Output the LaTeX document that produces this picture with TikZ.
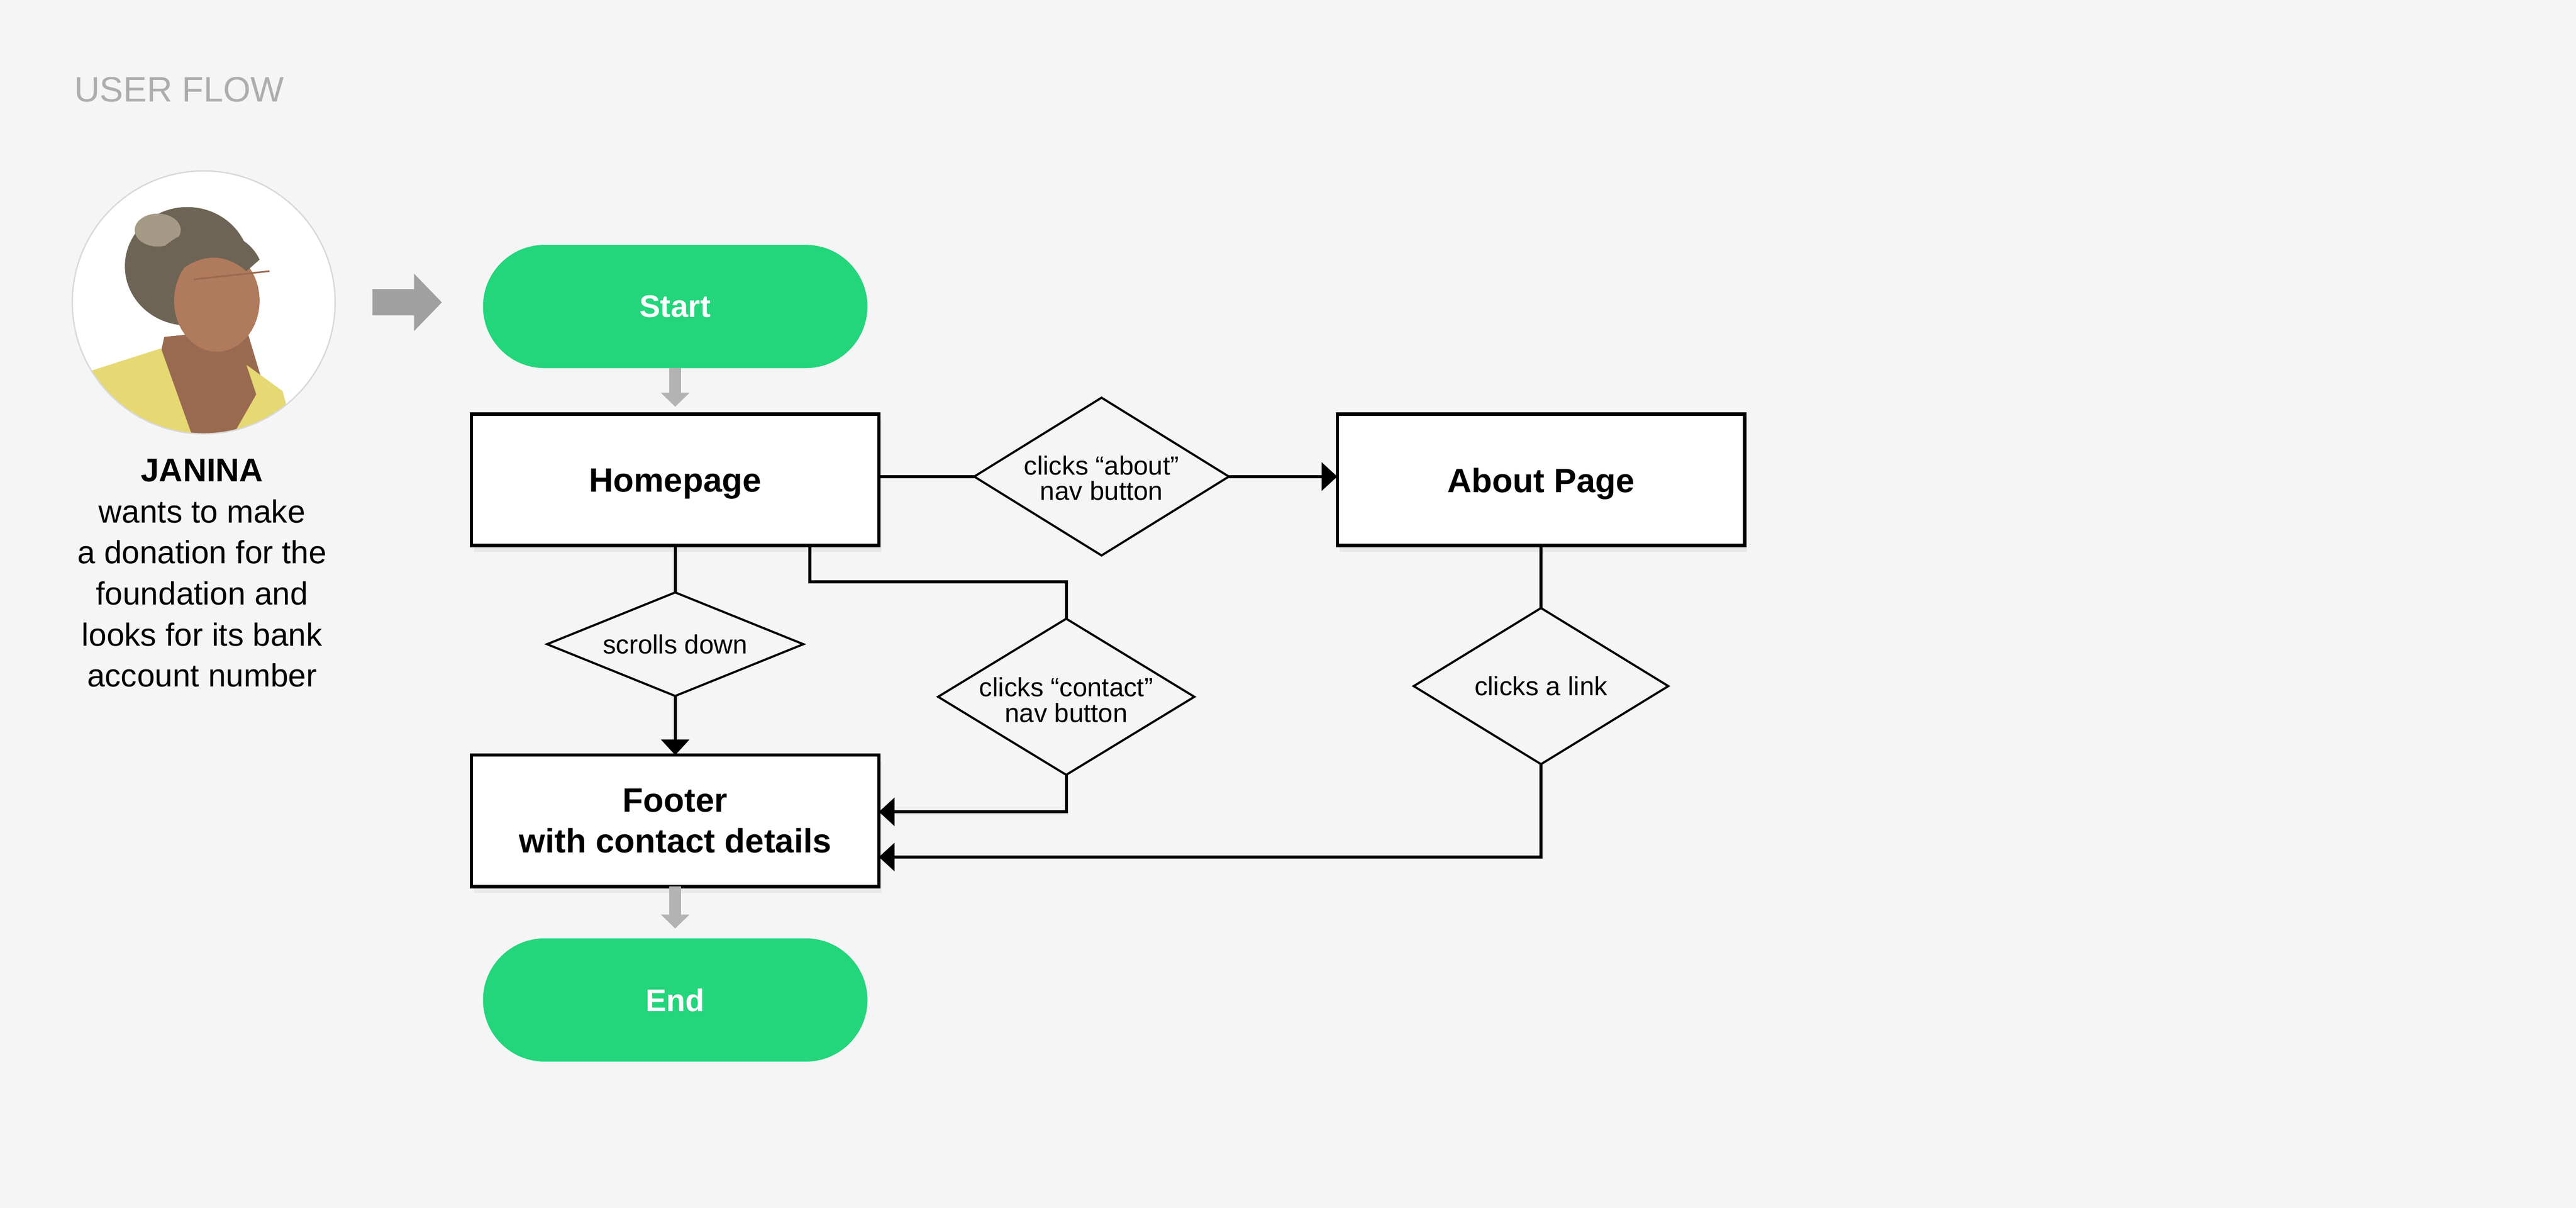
\documentclass[tikz,border=0pt]{standalone}
\usepackage{fontspec}
\setmainfont{Liberation Sans}
\usetikzlibrary{arrows.meta,shadows,shapes.geometric}
\definecolor{bg}{HTML}{F5F5F5}
\definecolor{flowgreen}{HTML}{23D57B}
\definecolor{titlegrey}{HTML}{ADADAD}
\definecolor{lightarrow}{HTML}{B3B3B3}
\definecolor{userarrow}{HTML}{A0A0A0}
\definecolor{ringgrey}{HTML}{D8D8D8}
\definecolor{shirt}{HTML}{E6D873}
\definecolor{skin}{HTML}{B07A5C}
\definecolor{skindark}{HTML}{9A6A50}
\definecolor{hair}{HTML}{6E6455}
\definecolor{hairlight}{HTML}{A59A86}
\begin{document}
\begin{tikzpicture}[x=1pt,y=-1pt,
  pagebox/.style={draw=black, line width=2pt, fill=white, minimum width=248pt, minimum height=80pt,
    inner sep=0pt, outer sep=0pt, align=center, font=\bfseries\fontsize{20.5}{24.7}\selectfont,
    drop shadow={opacity=0.10, shadow xshift=1.5pt, shadow yshift=-4pt}},
  pill/.style={fill=flowgreen, rounded corners=37.5pt, minimum width=234pt, minimum height=75pt,
    inner sep=0pt, outer sep=0pt, text=white, font=\bfseries\fontsize{19}{22}\selectfont},
  choice/.style={diamond, draw=black, line width=1.3pt, inner sep=0pt, outer sep=0pt},
  choicetext/.style={font=\fontsize{16}{15.5}\selectfont, align=center},
  conn/.style={draw=black, line width=1.9pt},
  connarrow/.style={conn, -{Triangle[length=9.5pt,width=17pt]}},
  greyarrow/.style={draw=lightarrow, line width=7pt, -{Triangle[length=8.5pt,width=17pt]}},
  persontext/.style={anchor=base, font=\fontsize{19.5}{25}\selectfont}
]
\fill[bg] (0,0) rectangle (1568,735);
\useasboundingbox (0,0) rectangle (1568,735);

% title
\node[anchor=base west, inner sep=0pt, text=titlegrey, font=\fontsize{21.5}{26}\selectfont] (title) at (45,62) {USER FLOW};

% photo
\node[circle, minimum size=160pt, inner sep=0pt, fill=white] (photo) at (124,184) {};
\begin{scope}
  \clip (124,184) circle (80);
  \fill[hair] (114,162) ellipse (38 and 36);
  \fill[hairlight] (96,140) ellipse (14 and 10);
  \fill[skindark] (100,205) -- (150,200) -- (162,240) -- (140,268) -- (104,268) -- (94,232) -- cycle;
  \fill[shirt] (48,228) -- (98,212) -- (108,240) -- (118,268) -- (40,268) -- cycle;
  \fill[shirt] (150,222) -- (172,238) -- (180,268) -- (140,268) -- (156,240) -- cycle;
  \fill[skin] (132,183) ellipse (26 and 31);
  \fill[hair] (100,150) .. controls (120,132) and (150,140) .. (158,158) -- (150,165) .. controls (135,152) and (118,155) .. (104,170) -- cycle;
  \draw[skindark, line width=1pt] (118,170) -- (164,165);
\end{scope}
\draw[ringgrey, line width=0.8pt] (photo.center) circle (80);

% person text
\node[persontext, font=\bfseries\fontsize{20}{25}\selectfont] (j0) at (123,293) {JANINA};
\node[persontext] (j1) at (123,318) {wants to make};
\node[persontext] (j2) at (123,343) {a donation for the};
\node[persontext] (j3) at (123,368) {foundation and};
\node[persontext] (j4) at (123,393) {looks for its bank};
\node[persontext] (j5) at (123,418) {account number};

% flow nodes
\node[pill] (start) at (411,186.5) {Start};
\node[pagebox] (home) at (411,292) {\raisebox{-2.5pt}[\height][\depth]{Homepage}};
\node[pagebox] (about) at (938,292) {\raisebox{-2.5pt}[\height][\depth]{About Page}};
\node[pagebox] (footer) at (411,499.5) {Footer\\with contact details};
\node[pill] (end) at (411,608.5) {End};

\node[choice, minimum width=155pt, minimum height=96pt,
  label={[choicetext, yshift=-1pt]center:clicks “about”\\nav button}] (aboutd) at (670.5,290) {};
\node[choice, minimum width=156pt, minimum height=63pt,
  label={[choicetext]center:scrolls down}] (scrolld) at (411,392) {};
\node[choice, minimum width=156pt, minimum height=95pt,
  label={[choicetext, yshift=-2pt]center:clicks “contact”\\nav button}] (contactd) at (649,424) {};
\node[choice, minimum width=155pt, minimum height=95pt,
  label={[choicetext]center:clicks a link}] (linkd) at (938,417.5) {};

% user arrow
\draw[draw=userarrow, line width=16pt, -{Triangle[length=17pt,width=34pt]},
  shorten <=22.5pt, shorten >=25pt] (photo.east) -- (photo.east -| start.west);

% grey arrows
\draw[greyarrow, shorten >=4.5pt] (start.south) -- (home.north);
\draw[greyarrow, shorten >=6pt] (footer.south) -- (end.north);

% connectors
\draw[conn] ([yshift=2pt]home.east) -- (aboutd.west);
\draw[connarrow] (aboutd.east) -- ([yshift=2pt]about.west);
\draw[conn] (about.south) -- (linkd.north);
\draw[connarrow] (linkd.south) |- ([yshift=-22pt]footer.east);
\draw[conn] (home.south) -- (scrolld.north);
\draw[connarrow] (scrolld.south) -- (footer.north);
\draw[conn] ([xshift=82pt]home.south) -- ++(0,22) -| (contactd.north);
\draw[connarrow] (contactd.south) |- ([yshift=5.5pt]footer.east);
\end{tikzpicture}
\end{document}
